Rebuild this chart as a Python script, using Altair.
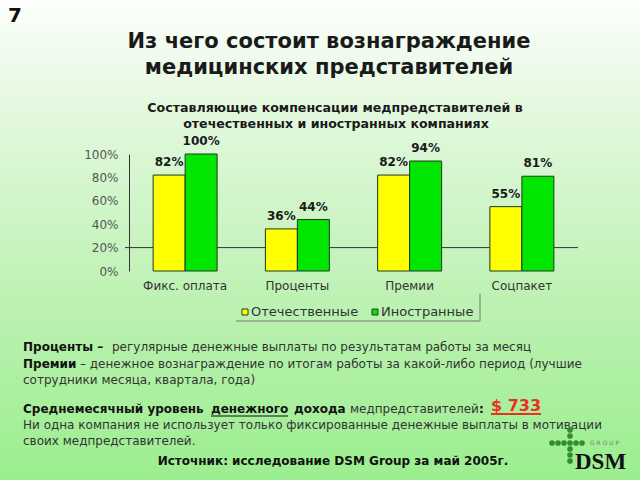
import altair as alt
import pandas as pd

# ---- data ----
categories = ["Фикс. оплата", "Проценты", "Премии", "Соцпакет"]
series = ["Отечественные", "Иностранные"]
domestic = [0.82, 0.36, 0.82, 0.55]
foreign = [1.00, 0.44, 0.94, 0.81]
colors = ["#ffff00", "#00e600"]
y_ticks = [0, 0.2, 0.4, 0.6, 0.8, 1.0]

rows = []
for c, d, f in zip(categories, domestic, foreign):
    rows.append({"cat": c, "series": series[0], "value": d})
    rows.append({"cat": c, "series": series[1], "value": f})
df = pd.DataFrame(rows)

# ---- layout (plot area placement in the 640x480 page) ----
L, T, W, H = 129, 154, 449, 117
R, B = 640 - L - W, 480 - T - H
FONT = "DejaVu Sans"

one = alt.Data(values=[{"a": 1}])


def px(x):
    return alt.value(x - L)


def py(y):
    return alt.value(y - T)


def txt(s, x, y, size=12, weight="normal", color="#333333", align="left", font=FONT):
    return alt.Chart(one).mark_text(
        text=s, align=align, baseline="middle", fontSize=size,
        fontWeight=weight, color=color, font=font
    ).encode(x=px(x), y=py(y))


def hline(x1, x2, y, color="#333333", width=1):
    return alt.Chart(one).mark_rule(color=color, strokeWidth=width).encode(
        x=px(x1), x2=px(x2), y=py(y))


def vline(x, y1, y2, color="#333333", width=1):
    return alt.Chart(one).mark_rule(color=color, strokeWidth=width).encode(
        x=px(x), y=py(y1), y2=py(y2))


# background gradient
bg = alt.Chart(one).mark_rect(
    color=alt.LinearGradient(
        gradient="linear", x1=0, x2=0, y1=0, y2=1,
        stops=[
            alt.GradientStop(color="#fdfffc", offset=0),
            alt.GradientStop(color="#e6f9e2", offset=0.2),
            alt.GradientStop(color="#bff2b5", offset=0.6),
            alt.GradientStop(color="#9bee8f", offset=1),
        ],
    )
).encode(x=px(0), x2=px(640), y=py(0), y2=py(480))

y_axis = alt.Axis(title=None, values=y_ticks, format=".0%", ticks=False,
                  grid=False, domain=True, domainColor="#333333",
                  labelColor="#555555", labelFont=FONT, labelFontSize=12,
                  labelPadding=11, labelOverlap=False, labelBound=False,
                  labelFlush=False, zindex=1)

base = alt.Chart(df).encode(
    x=alt.X("cat:N", sort=categories,
            scale=alt.Scale(paddingInner=0.43, paddingOuter=0.215),
            axis=alt.Axis(title=None, ticks=False, domain=False, labelAngle=0,
                          labelColor="#333333", labelFont=FONT, labelFontSize=12,
                          labelPadding=9, zindex=1)),
    xOffset=alt.XOffset("series:N", sort=series, scale=alt.Scale(paddingInner=0)),
    y=alt.Y("value:Q", scale=alt.Scale(domain=[0, 1]), axis=y_axis),
)

rule20 = alt.Chart(one).mark_rule(color="#333333", strokeWidth=1).encode(
    y=alt.Y(datum=0.2, axis=y_axis), x=alt.value(-4), x2=alt.value(W))

bars = base.mark_bar(stroke="#1e3a1e", strokeWidth=1).encode(
    color=alt.Color("series:N", sort=series,
                    scale=alt.Scale(domain=series, range=colors), legend=None))

labels = base.mark_text(dy=-13, fontWeight="bold", fontSize=12, font=FONT,
                        color="#1a1a1a", baseline="middle").encode(
    text=alt.Text("value:Q", format=".0%"))

layers = [bg, rule20, bars, labels]

# titles
layers += [
    txt("7", 8, 16, size=20, weight="bold", color="#111111"),
    txt("Из чего состоит вознаграждение", 329, 42, size=21, weight="bold",
        color="#1a1a1a", align="center"),
    txt("медицинских представителей", 329, 68, size=21, weight="bold",
        color="#1a1a1a", align="center"),
    txt("Составляющие компенсации медпредставителей в", 335, 108, size=12.6,
        weight="bold", color="#1a1a1a", align="center"),
    txt("отечественных и иностранных  компаниях", 336, 124, size=12.6,
        weight="bold", color="#1a1a1a", align="center"),
]

# legend
layers += [
    alt.Chart(one).mark_rect(fill=colors[0], stroke="#333333", strokeWidth=1).encode(
        x=px(242), x2=px(248), y=py(309), y2=py(315)),
    txt(series[0], 251, 312, size=13, color="#333333"),
    alt.Chart(one).mark_rect(fill=colors[1], stroke="#333333", strokeWidth=1).encode(
        x=px(372), x2=px(378), y=py(309), y2=py(315)),
    txt(series[1], 381, 312, size=13, color="#333333"),
    vline(480, 294, 321, color="#777777"),
    hline(236, 480, 321, color="#777777"),
]

# text block
layers += [
    txt("Проценты –", 23, 347, weight="bold", color="#111111"),
    txt("регулярные денежные выплаты по результатам работы за месяц", 112, 347),
    txt("Премии", 23, 364, weight="bold", color="#111111"),
    txt("– денежное вознаграждение по итогам работы за какой-либо период (лучшие", 80, 364),
    txt("сотрудники месяца, квартала, года)", 23, 380),
    txt("Среднемесячный уровень", 23, 409, weight="bold", color="#111111"),
    txt("денежного", 211, 409, weight="bold", color="#111111"),
    hline(211, 288, 416, color="#111111"),
    txt("дохода", 294, 409, weight="bold", color="#111111"),
    txt("медпредставителей", 350, 409),
    txt(":", 479, 409, weight="bold", color="#111111"),
    txt("$ 733", 491, 406, size=16, weight="bold", color="#e8321e"),
    hline(491, 541, 414, color="#e8321e", width=2),
    txt("Ни одна компания не использует только фиксированные денежные выплаты в мотивации", 23, 425),
    txt("своих медпредставителей.", 23, 441),
    txt("Источник: исследование DSM Group за май 2005г.", 333, 461, weight="bold",
        color="#111111", align="center"),
]

# DSM logo
dot_x = [552, 558, 564, 570, 576, 582]
dot_y = [430, 436, 449, 455, 461]
for xx in dot_x:
    layers.append(alt.Chart(one).mark_circle(size=32, color="#2f8f2f", opacity=1).encode(
        x=px(xx), y=py(443)))
for yy in dot_y:
    layers.append(alt.Chart(one).mark_circle(size=32, color="#2f8f2f", opacity=1).encode(
        x=px(570), y=py(yy)))
layers += [
    txt("G R O U P", 590, 443, size=6, color="#777777"),
    txt("DSM", 575, 462, size=23, weight="bold", color="#111111",
        font="Liberation Serif"),
]

chart = alt.layer(*layers).properties(
    width=W, height=H,
    padding={"left": L, "top": T, "right": R, "bottom": B},
    autosize=alt.AutoSizeParams(type="none"),
).configure_view(stroke=None).configure_axisY(labelOverlap=False)

chart.save("out.html", embed_options={"renderer": "svg", "actions": False})
